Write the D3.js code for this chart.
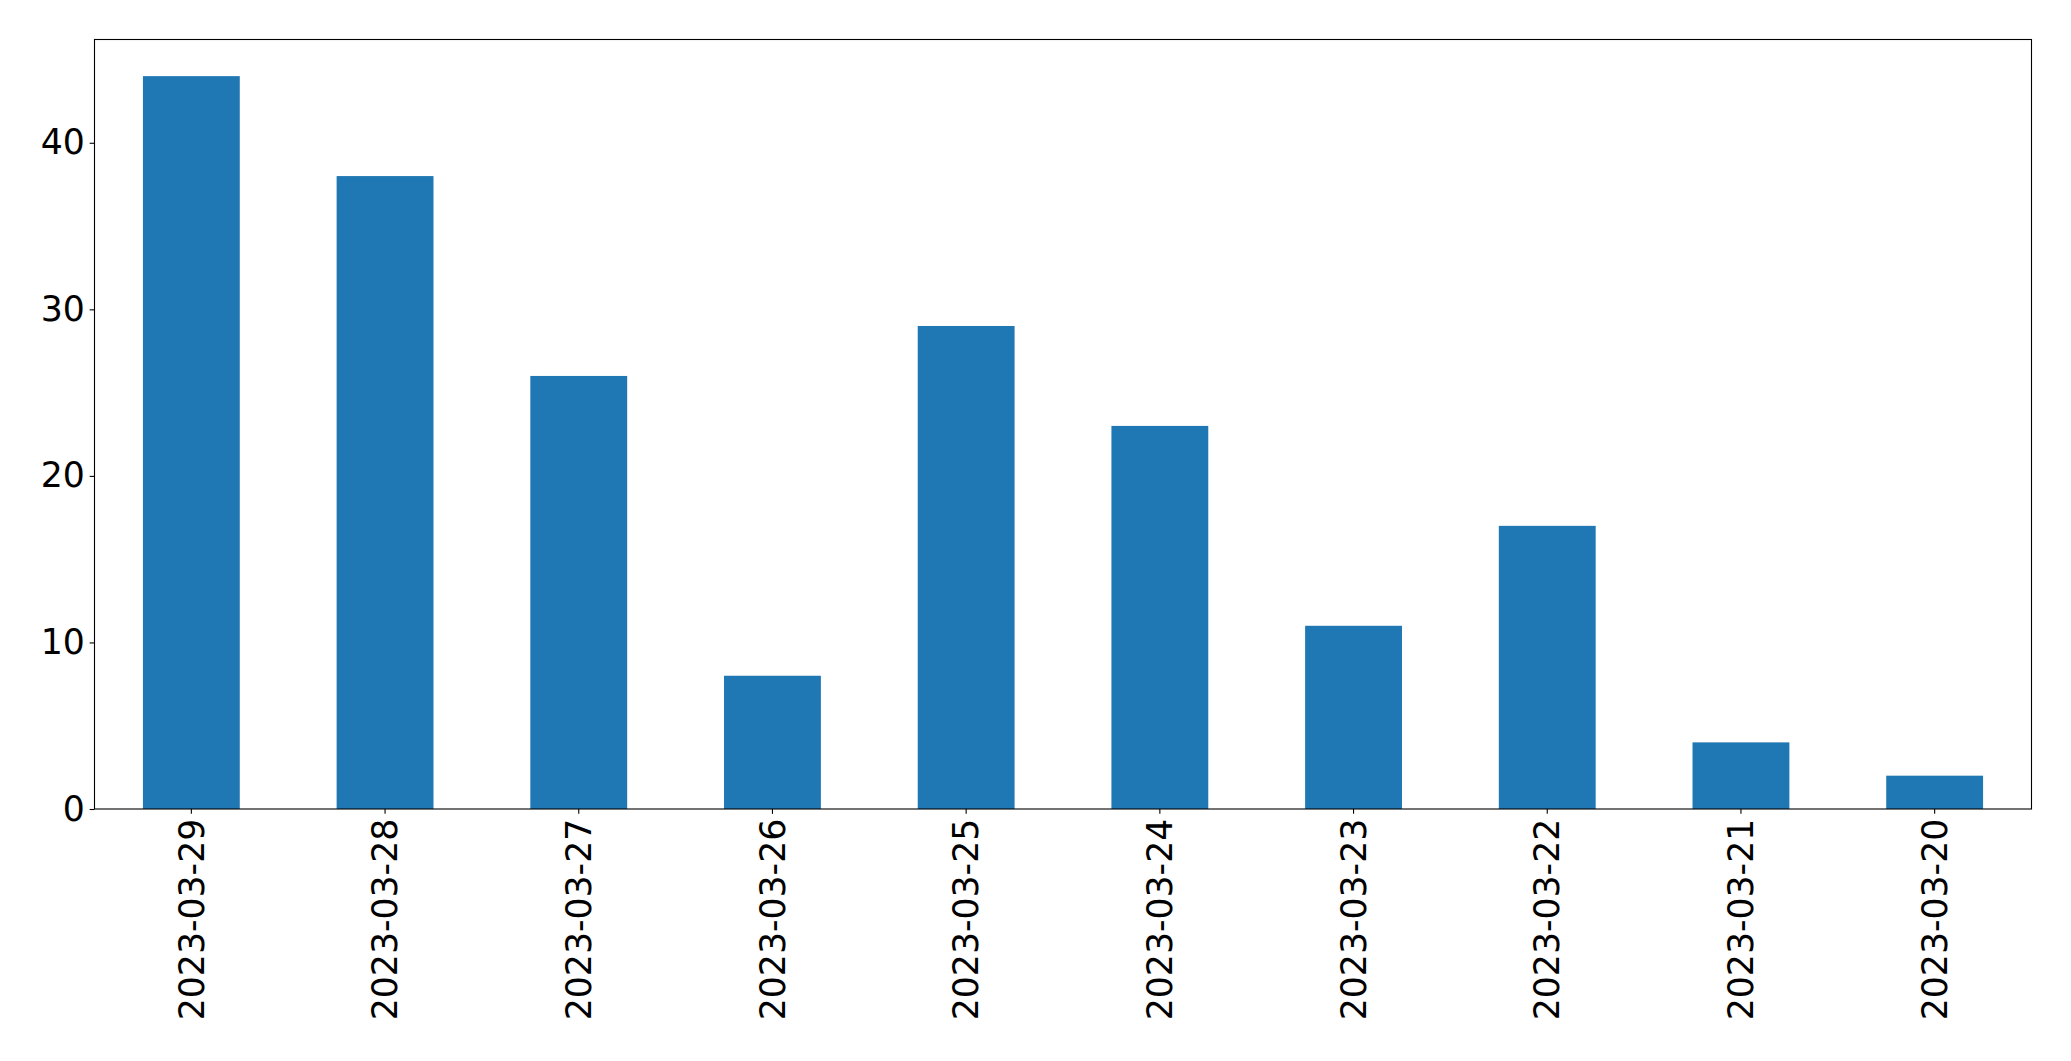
<!DOCTYPE html>
<html>
<head>
<meta charset="utf-8">
<script src="https://cdn.jsdelivr.net/npm/d3@7"></script>
<style>
  html, body { margin: 0; padding: 0; background: #fff; }
  svg { display: block; }
</style>
</head>
<body>
<script>
const categories = ["2023-03-29","2023-03-28","2023-03-27","2023-03-26","2023-03-25","2023-03-24","2023-03-23","2023-03-22","2023-03-21","2023-03-20"];
const values = [44, 38, 26, 8, 29, 23, 11, 17, 4, 2];
const yTicks = [0, 10, 20, 30, 40];

const W = 2071, H = 1061;
const m = {left: 94.5, right: 2031.5, top: 39.5, bottom: 809};
const fontSize = 34.7;
const tickLen = 4.86, pad = 4.86;

const svg = d3.select("body").append("svg").attr("width", W).attr("height", H);

const x = d3.scaleBand().domain(categories).range([m.left, m.right]).paddingInner(0).paddingOuter(0);
const y = d3.scaleLinear().domain([0, 44 * 1.05]).range([m.bottom, m.top]);

const bw = x.bandwidth() * 0.5;
svg.append("g").selectAll("rect").data(categories).join("rect")
  .attr("x", (d) => x(d) + x.bandwidth() / 2 - bw / 2)
  .attr("width", bw)
  .attr("y", (d, i) => y(values[i]))
  .attr("height", (d, i) => y(0) - y(values[i]))
  .attr("fill", "#1f77b4");

// Y axis
const yAxis = d3.axisLeft(y).tickValues(yTicks).tickSize(tickLen).tickPadding(pad).tickFormat(d3.format("d"));
const gy = svg.append("g").attr("transform", `translate(${m.left},0)`).call(yAxis);
gy.select(".domain").remove();
gy.selectAll("line").attr("stroke", "#000").attr("stroke-width", 1.1);
gy.selectAll("text").attr("font-family", "DejaVu Sans").attr("font-size", fontSize).attr("fill", "#000");

// X axis
const xAxis = d3.axisBottom(x).tickSize(tickLen).tickPadding(pad);
const gx = svg.append("g").attr("transform", `translate(0,${m.bottom})`).call(xAxis);
gx.select(".domain").remove();
gx.selectAll("line").attr("stroke", "#000").attr("stroke-width", 1.1);
gx.selectAll("text")
  .attr("font-family", "DejaVu Sans").attr("font-size", fontSize).attr("fill", "#000")
  .attr("transform", `translate(0,${tickLen + pad}) rotate(-90)`)
  .attr("x", 0).attr("y", 0).attr("dy", "0.35em")
  .attr("text-anchor", "end");

// Frame
svg.append("rect")
  .attr("x", m.left).attr("y", m.top)
  .attr("width", m.right - m.left).attr("height", m.bottom - m.top)
  .attr("fill", "none").attr("stroke", "#000").attr("stroke-width", 1.1);
</script>
</body>
</html>
